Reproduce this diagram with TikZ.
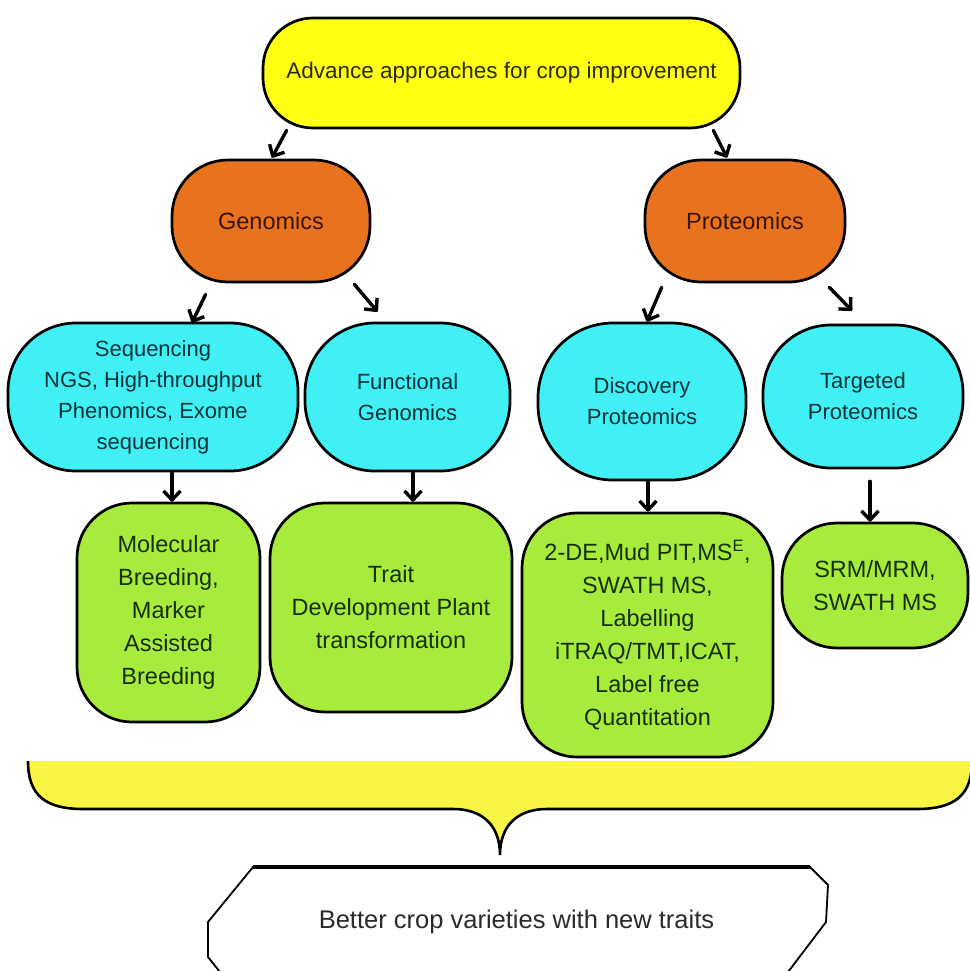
\documentclass[tikz,border=0pt]{standalone}
\usepackage{fontspec}
\setmainfont{Liberation Sans}
\usetikzlibrary{arrows.meta,calc}
\definecolor{topyellow}{HTML}{FFFF14}
\definecolor{braceyellow}{HTML}{F9F545}
\definecolor{orng}{HTML}{E8721E}
\definecolor{cyn}{HTML}{41F0F4}
\definecolor{grn}{HTML}{A7EC3C}
\definecolor{toptext}{HTML}{2A2A08}
\definecolor{orngtext}{HTML}{3A1505}
\definecolor{cyntext}{HTML}{07333A}
\definecolor{grntext}{HTML}{163003}
\definecolor{restext}{HTML}{2A2A2A}
\begin{document}
\begin{tikzpicture}[x=1pt,y=-1pt,
  base/.style={draw=black, line width=2.7pt, align=center, inner sep=0pt},
  ybox/.style={base, fill=topyellow, text=toptext, font=\fontsize{22.5}{30}\selectfont},
  obox/.style={base, fill=orng, text=orngtext, font=\fontsize{23.5}{30}\selectfont},
  cbox/.style={base, fill=cyn, text=cyntext, font=\fontsize{22}{31}\selectfont},
  gbox/.style={base, fill=grn, text=grntext, font=\fontsize{23.5}{33}\selectfont},
  arr/.style={line width=3.4pt, line cap=round, -{Straight Barb[length=9pt,width=17pt,line join=round]}},
  bracefill/.style={fill=braceyellow},
  braceline/.style={draw=black, line width=2.6pt},
  hexline/.style={draw=black, line width=1.8pt}
]
\useasboundingbox[fill=white] (0,0) rectangle (969,971);

% top node
\node[ybox, minimum width=477pt, minimum height=110pt, rounded corners=50pt] (top) at (501.5,73) {Advance approaches for crop improvement};

% orange level
\node[obox, minimum width=198pt, minimum height=122pt, rounded corners=56pt] (gen) at (271,221) {Genomics};
\node[obox, minimum width=200pt, minimum height=122pt, rounded corners=56pt] (prot) at (745,221) {Proteomics};

% cyan level
\node[cbox, minimum width=290pt, minimum height=148pt, rounded corners=68pt] (seq) at (153,397) {Sequencing\\NGS, High-throughput\\Phenomics, Exome\\sequencing};
\node[cbox, minimum width=205pt, minimum height=148pt, rounded corners=70pt] (func) at (407.5,397) {Functional\\Genomics};
\node[cbox, minimum width=208pt, minimum height=157pt, rounded corners=75pt] (disc) at (642,401.5) {Discovery\\Proteomics};
\node[cbox, minimum width=200pt, minimum height=143pt, rounded corners=68pt] (targ) at (863,396.5) {Targeted\\Proteomics};

% green level
\node[gbox, minimum width=183pt, minimum height=219pt, rounded corners=55pt] (mol) at (168.5,612.5) {Molecular\\Breeding,\\Marker\\Assisted\\Breeding};
\node[gbox, minimum width=242pt, minimum height=209pt, rounded corners=55pt] (trait) at (391,607.5) {Trait\\Development Plant\\transformation};
\node[gbox, minimum width=251pt, minimum height=244pt, rounded corners=55pt] (mass) at (647.5,635) {2-DE,Mud PIT,MS\textsuperscript{E},\\SWATH MS,\\Labelling\\iTRAQ/TMT,ICAT,\\Label free\\Quantitation};
\node[gbox, minimum width=186pt, minimum height=125pt, rounded corners=55pt] (srm) at (875,585.5) {SRM/MRM,\\SWATH MS};

% arrows
\draw[arr] ($(top.south west)+(25,1)$) -- ($(gen.north)+(1,-1)$);
\draw[arr] ($(top.south east)+(-28,1)$) -- ($(prot.north)+(-18,-1)$);
\draw[arr] ($(gen.south west)+(35,11)$) -- ($(seq.north)+(39,1)$);
\draw[arr] ($(gen.south east)+(-17,1)$) -- ($(func.north)+(-30,-10)$);
\draw[arr] ($(prot.south west)+(18,4)$) -- ($(disc.north)+(5,0)$);
\draw[arr] ($(prot.south east)+(-17,4)$) -- ($(targ.north)+(-11,-13)$);
\draw[arr] ($(seq.south)+(19,1)$) -- ($(mol.north)+(3.5,0)$);
\draw[arr] ($(func.south)+(5.5,1)$) -- ($(trait.north)+(22,0)$);
\draw[arr] ($(disc.south)+(6,1)$) -- ($(mass.north)+(0.5,0)$);
\draw[arr] ($(targ.south)+(7,12)$) -- ($(srm.north)+(-5,0)$);

% brace
\fill[bracefill] (28,761) .. controls (28,795) and (45,809) .. (83,809)
  -- (453,809) .. controls (482,809) and (500,825) .. (500,855)
  .. controls (500,825) and (518,809) .. (547,809)
  -- (917,809) .. controls (955,809) and (972,795) .. (972,761) -- cycle;
\draw[braceline] (28,761) .. controls (28,795) and (45,809) .. (83,809)
  -- (453,809) .. controls (482,809) and (500,825) .. (500,855)
  .. controls (500,825) and (518,809) .. (547,809)
  -- (917,809) .. controls (955,809) and (972,795) .. (972,761);

% result
\coordinate (rc) at (516.5,922);
\filldraw[fill=white, hexline] (253,867) -- (810,867) -- (828,885) -- (826,922) -- (788,972) -- (220,972) -- (208,957) -- (208,922) -- cycle;
\draw[line width=3.4pt] (253,867) -- (810,867);
\node[text=restext, font=\fontsize{25.5}{30}\selectfont, inner sep=0pt] (res) at (rc) {Better crop varieties with new traits};
\end{tikzpicture}
\end{document}
